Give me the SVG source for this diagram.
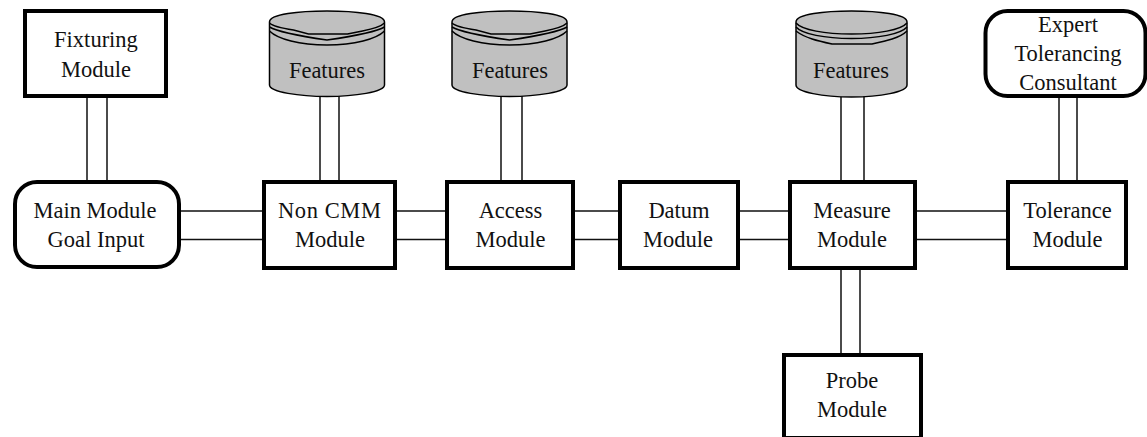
<svg xmlns="http://www.w3.org/2000/svg" width="1147" height="437" viewBox="0 0 1147 437">
<style>
.box{fill:#fff;stroke:#000;stroke-width:4}
.db{fill:#c0c0c0;stroke:#000;stroke-width:1.5}
.dbl{fill:none;stroke:#000;stroke-width:1.5}
.c{stroke:#111;stroke-width:1.5;fill:none}
text{font-family:"Liberation Serif","Times New Roman",serif;font-size:22.500px;fill:#111;text-anchor:middle}
</style>
<defs>
<g id="cyl">
<path class="db" d="M0 22C0 14 30 11 57.500 11C85 11 115 14 115 22V85C115 92 85 96.500 57.500 96.500C30 96.500 0 92 0 85Z"/>
<path class="dbl" d="M0 23C4 27 14 28.500 24 30L39 34H78L93 31C103 29 111 27 115 23"/>
<path class="dbl" d="M0 27C8 32 30 36 57.500 40C85 36 107 32 115 27"/>
<path class="dbl" d="M0 31C8 39 30 45 57.500 45C85 45 107 39 115 31"/>
</g>
</defs>
<g id="connectors">
<path class="c" d="M87 96V182M107 96V182"/>
<path class="c" d="M320 96V182M339 96V182"/>
<path class="c" d="M501 96V182M522 96V182"/>
<path class="c" d="M841 96V182M864 96V182"/>
<path class="c" d="M1059 96V182M1077 96V182"/>
<path class="c" d="M841 268V355M860 268V355"/>
<path class="c" d="M179 211H264M179 239.500H264"/>
<path class="c" d="M395 211H447M395 239.500H447"/>
<path class="c" d="M573 211H620M573 239.500H620"/>
<path class="c" d="M738 211H790M738 239.500H790"/>
<path class="c" d="M915 211H1008M915 239.500H1008"/>
</g>
<g id="fixturing"><rect class="box" x="25" y="11" width="141" height="85"/><text x="96" y="46.500">Fixturing</text><text x="96" y="77">Module</text></g>
<g id="main"><rect class="box" x="15" y="182" width="164" height="85" rx="22"/><text x="95" y="218">Main Module</text><text x="96" y="247">Goal Input</text></g>
<g id="noncmm"><rect class="box" x="264" y="182" width="131" height="86"/><text x="329.500" y="218" textLength="103">Non CMM</text><text x="330" y="247">Module</text></g>
<g id="access"><rect class="box" x="447" y="182" width="126" height="86"/><text x="510.500" y="218">Access</text><text x="510.500" y="247">Module</text></g>
<g id="datum"><rect class="box" x="620" y="182" width="118" height="86"/><text x="679" y="218">Datum</text><text x="678" y="247">Module</text></g>
<g id="measure"><rect class="box" x="790" y="182" width="125" height="86"/><text x="852" y="218">Measure</text><text x="852" y="247">Module</text></g>
<g id="tolerance"><rect class="box" x="1008" y="182" width="118" height="86"/><text x="1067.500" y="218">Tolerance</text><text x="1067.500" y="247">Module</text></g>
<g id="probe"><rect class="box" x="784" y="355" width="137" height="83"/><text x="852" y="388">Probe</text><text x="852" y="417">Module</text></g>
<g id="expert"><rect class="box" x="985.500" y="11" width="160" height="85" rx="22"/><text x="1068" y="32">Expert</text><text x="1068" y="61">Tolerancing</text><text x="1068" y="90">Consultant</text></g>
<g id="features1"><use href="#cyl" x="269.500"/><text x="327" y="78">Features</text></g>
<g id="features2"><use href="#cyl" x="452"/><text x="510" y="78">Features</text></g>
<g id="features3">
<path class="db" d="M796 22C796 14 825 11 851.500 11C878 11 907 14 907 22V85C907 92 880 97 851.500 97C823 97 796 92 796 85Z"/>
<path class="dbl" d="M796 23C802 30 825 34 851.500 34C878 34 901 30 907 23"/>
<path class="dbl" d="M796 27C802 34 825 38.500 851.500 38.500C878 38.500 901 34 907 27"/>
<path class="dbl" d="M796 31C805 38 818 41 832 44H872C886 41 900 38 907 31"/>
<text x="851" y="78">Features</text></g>
</svg>
